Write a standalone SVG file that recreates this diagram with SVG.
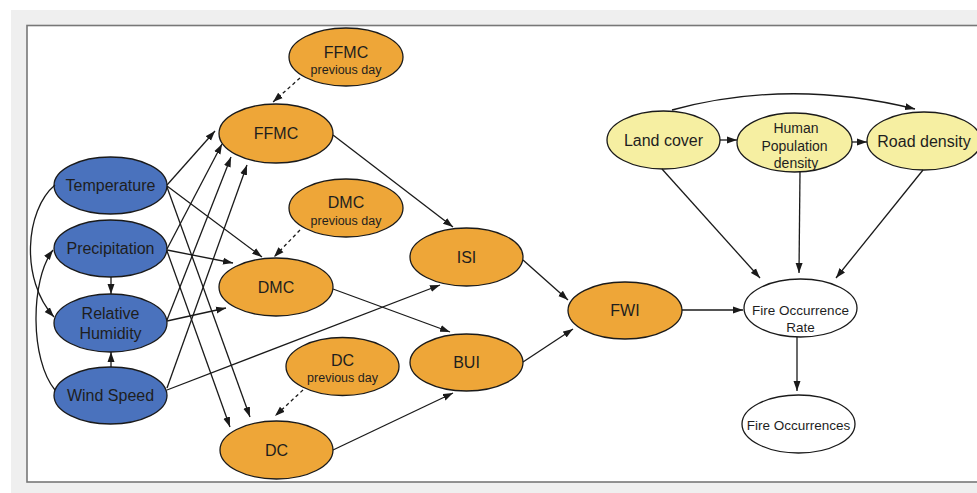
<svg xmlns="http://www.w3.org/2000/svg" width="977" height="493" viewBox="0 0 977 493">
<defs>
<style>
.n ellipse{stroke:#1a1a1a;stroke-width:1.3}
.blue ellipse{fill:#4a72bd}
.org ellipse{fill:#eea638}
.yel ellipse{fill:#f6efa2}
.wht ellipse{fill:#ffffff}
text{font-family:"Liberation Sans",Arial,sans-serif;fill:#1e1e1e;text-anchor:middle}
.t{font-size:16px}
.s{font-size:12.5px}
.m{font-size:14px}
.f{font-size:13.5px}
#edges path{fill:none;stroke:#1a1a1a;stroke-width:1.3;marker-end:url(#ah)}
#edges path.d{stroke-dasharray:3.5 3}
</style>
<marker id="ah" markerUnits="userSpaceOnUse" markerWidth="10" markerHeight="8" refX="10" refY="4" orient="auto">
<path d="M0,0.5 L10,4 L0,7.5 z" fill="#1a1a1a"/>
</marker>
</defs>
<rect x="0" y="0" width="977" height="493" fill="#ffffff"/>
<rect x="11" y="10" width="966" height="483" fill="#efefef"/>
<rect x="27" y="25.5" width="970" height="456.5" fill="#ffffff" stroke="#777777" stroke-width="1.6"/>

<g id="temperature" class="n blue"><ellipse cx="110.5" cy="185.5" rx="56.5" ry="28.5"/><text class="t" x="110.5" y="191">Temperature</text></g>
<g id="precipitation" class="n blue"><ellipse cx="110.5" cy="248.5" rx="56.5" ry="28.5"/><text class="t" x="110.5" y="254">Precipitation</text></g>
<g id="humidity" class="n blue"><ellipse cx="110.5" cy="323" rx="56.5" ry="29"/><text class="t" x="110.5" y="319">Relative</text><text class="t" x="110.5" y="339">Humidity</text></g>
<g id="wind" class="n blue"><ellipse cx="110.5" cy="395.5" rx="56.5" ry="28.5"/><text class="t" x="110.5" y="401">Wind Speed</text></g>

<g id="ffmc-prev" class="n org"><ellipse cx="346" cy="57" rx="57" ry="29"/><text class="t" x="346" y="58">FFMC</text><text class="s" x="346" y="74">previous day</text></g>
<g id="ffmc" class="n org"><ellipse cx="276" cy="133.5" rx="57" ry="29.5"/><text class="t" x="276" y="139">FFMC</text></g>
<g id="dmc-prev" class="n org"><ellipse cx="346" cy="208" rx="57" ry="29"/><text class="t" x="346" y="208">DMC</text><text class="s" x="346" y="225">previous day</text></g>
<g id="dmc" class="n org"><ellipse cx="276" cy="287" rx="57" ry="29"/><text class="t" x="276" y="293">DMC</text></g>
<g id="dc-prev" class="n org"><ellipse cx="342.5" cy="366.5" rx="56.5" ry="29"/><text class="t" x="342.5" y="366">DC</text><text class="s" x="342.5" y="382">previous day</text></g>
<g id="dc" class="n org"><ellipse cx="276.5" cy="450" rx="56.5" ry="29"/><text class="t" x="276.5" y="456">DC</text></g>
<g id="isi" class="n org"><ellipse cx="466.5" cy="257" rx="56.5" ry="29"/><text class="t" x="466.5" y="263">ISI</text></g>
<g id="bui" class="n org"><ellipse cx="466.5" cy="362.5" rx="56.5" ry="28.5"/><text class="t" x="466.5" y="368">BUI</text></g>
<g id="fwi" class="n org"><ellipse cx="625" cy="310.5" rx="57" ry="28.5"/><text class="t" x="625" y="316">FWI</text></g>

<g id="landcover" class="n yel"><ellipse cx="663.5" cy="140" rx="56.5" ry="29"/><text class="t" x="663.5" y="146">Land cover</text></g>
<g id="population" class="n yel"><ellipse cx="794.5" cy="142.5" rx="57.5" ry="29.5"/><text class="m" x="796" y="133">Human</text><text class="m" x="794.5" y="151">Population</text><text class="m" x="796" y="168">density</text></g>
<g id="road" class="n yel"><ellipse cx="924" cy="141" rx="57" ry="29"/><text class="t" x="924" y="147">Road density</text></g>

<g id="fire-rate" class="n wht"><ellipse cx="800.5" cy="308" rx="56.5" ry="29"/><text class="f" x="800.5" y="315">Fire Occurrence</text><text class="f" x="800.5" y="332">Rate</text></g>
<g id="fire-occ" class="n wht"><ellipse cx="798.5" cy="424" rx="56.5" ry="29"/><text class="f" x="798.5" y="430">Fire Occurrences</text></g>

<g id="edges">
<path d="M167,185 L215,131"/>
<path d="M167,249 L222,144"/>
<path d="M167,320 L231,157"/>
<path d="M167,388 L247,165"/>
<path d="M167,186 L262,257"/>
<path d="M167,250 L233,263"/>
<path d="M167,321 L226,308"/>
<path d="M167,187 L250,417"/>
<path d="M167,251 L230,427"/>
<path d="M167,390 L440,285"/>
<path d="M333,135 L453,227"/>
<path d="M333,289 L450,332"/>
<path d="M333,450 L453,393"/>
<path d="M523,260 L568,300"/>
<path d="M523,362 L573,329"/>
<path d="M682,310 L743,310"/>
<path d="M662,169 L760,278"/>
<path d="M800,172 L799,273"/>
<path d="M923,170 L836,278"/>
<path d="M720,140 L737,140"/>
<path d="M852,142 L867,142"/>
<path d="M672,110 Q790,78 915,109"/>
<path d="M797,337 L797,391"/>
<path d="M111,277 L111,294"/>
<path d="M111,367 L111,352"/>
<path d="M55,185 C25,210 20,280 54,317"/>
<path d="M55,390 C30,360 30,280 53,250"/>
<path class="d" d="M300,78 L273,102"/>
<path class="d" d="M300,230 L274,257"/>
<path class="d" d="M303,390 L275,416"/>
</g>
</svg>
